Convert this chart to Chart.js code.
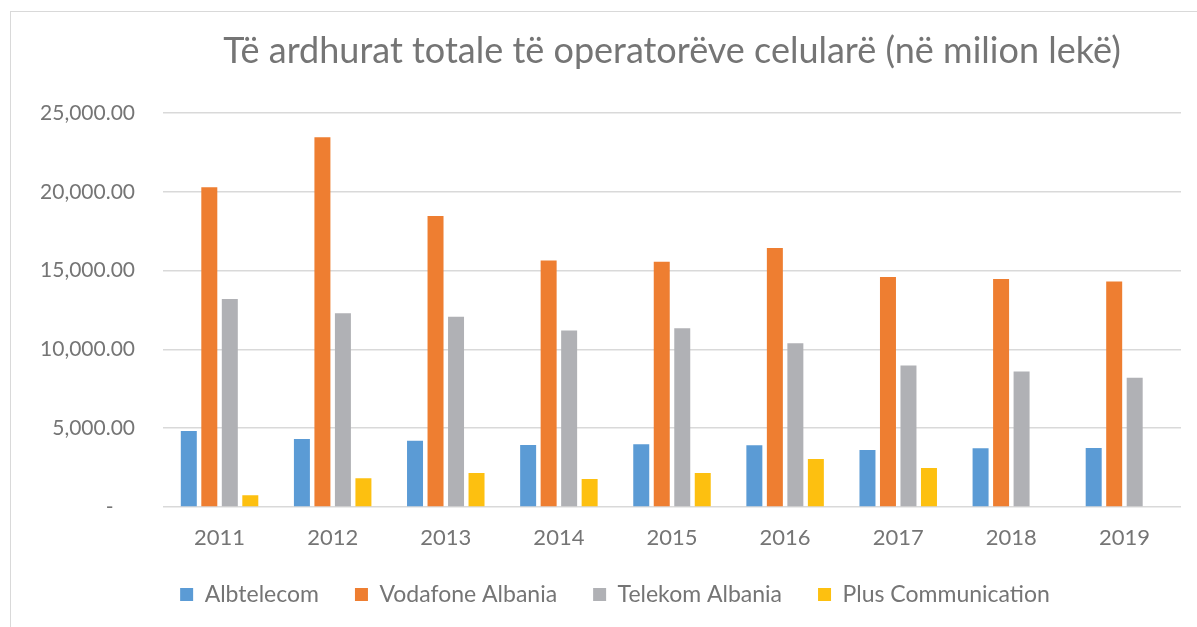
<!DOCTYPE html>
<html>
<head>
<meta charset="utf-8">
<script src="https://cdn.jsdelivr.net/npm/chart.js@4"></script>
<style>
  html, body { margin: 0; padding: 0; background: #fff; overflow: hidden; }
  #box { position: absolute; left: 10px; top: 11px; width: 1186px; height: 615px; border: 1px solid #d9d9d9; background: #fff; }
</style>
</head>
<body>
<div id="box"><canvas id="myChart" width="1186" height="615"></canvas></div>
<script>
var years = ['2011', '2012', '2013', '2014', '2015', '2016', '2017', '2018', '2019'];
var albtelecom = [4830, 4320, 4200, 3940, 3980, 3920, 3620, 3730, 3750];
var vodafone = [20300, 23480, 18480, 15650, 15570, 16440, 14600, 14470, 14320];
var telekom = [13210, 12300, 12070, 11200, 11350, 10400, 8990, 8610, 8210];
var plus = [740, 1820, 2160, 1780, 2160, 3050, 2480, null, null];

var textColor = '#757575';
var fontName = 'Lato, Carlito, sans-serif';

function fmt(v) {
  if (v == 0) return '-    ';
  return v.toLocaleString('en-US', {minimumFractionDigits: 2, maximumFractionDigits: 2});
}

// move the legend up and a bit right, the x labels need their full box
var legendShift = {
  id: 'legendShift',
  afterLayout: function(chart) {
    chart.legend.top -= 5;
    chart.legend.bottom -= 5;
    chart.legend.left += 19;
    chart.legend.right += 19;
  }
};

var ctx = document.getElementById('myChart').getContext('2d');
var myChart = new Chart(ctx, {
  type: 'bar',
  data: {
    labels: years,
    datasets: [
      { label: 'Albtelecom', data: albtelecom, backgroundColor: '#5B9BD5' },
      { label: 'Vodafone Albania', data: vodafone, backgroundColor: '#EE7E31' },
      { label: 'Telekom Albania', data: telekom, backgroundColor: '#B0B1B5' },
      { label: 'Plus Communication', data: plus, backgroundColor: '#FDC010' }
    ]
  },
  plugins: [legendShift],
  options: {
    responsive: false,
    animation: false,
    layout: { padding: { left: 0, right: 16, top: 0, bottom: 0 } },
    datasets: { bar: { categoryPercentage: 0.725, barPercentage: 0.78 } },
    plugins: {
      title: {
        display: true,
        fullSize: false,
        text: 'Të ardhurat totale të operatorëve celularë (në milion lekë)',
        color: textColor,
        font: { family: fontName, size: 36, weight: 'normal' },
        padding: { top: 18, bottom: 40 }
      },
      legend: {
        position: 'bottom',
        labels: {
          color: textColor,
          font: { family: fontName, size: 23 },
          boxWidth: 13,
          boxHeight: 13,
          padding: 36
        }
      },
      tooltip: { enabled: false }
    },
    scales: {
      x: {
        afterFit: function(scale) { scale.height = 45; },
        grid: { display: false },
        border: { display: false },
        ticks: { color: textColor, font: { family: fontName, size: 22 }, padding: 10 }
      },
      y: {
        min: 0,
        max: 25000,
        afterFit: function(scale) { scale.width = 152; },
        grid: { color: '#D9D9D9', lineWidth: 1.5, drawTicks: false },
        border: { display: false },
        ticks: {
          stepSize: 5000,
          color: textColor,
          font: { family: fontName, size: 21 },
          padding: 28,
          callback: function(value) { return fmt(value); }
        }
      }
    }
  }
});

// fix the legend height so the plot reaches down like the original
var legendFit = myChart.legend.fit;
myChart.legend.fit = function() {
  legendFit.call(this);
  this.height = 75;
};
myChart.update();
</script>
</body>
</html>
